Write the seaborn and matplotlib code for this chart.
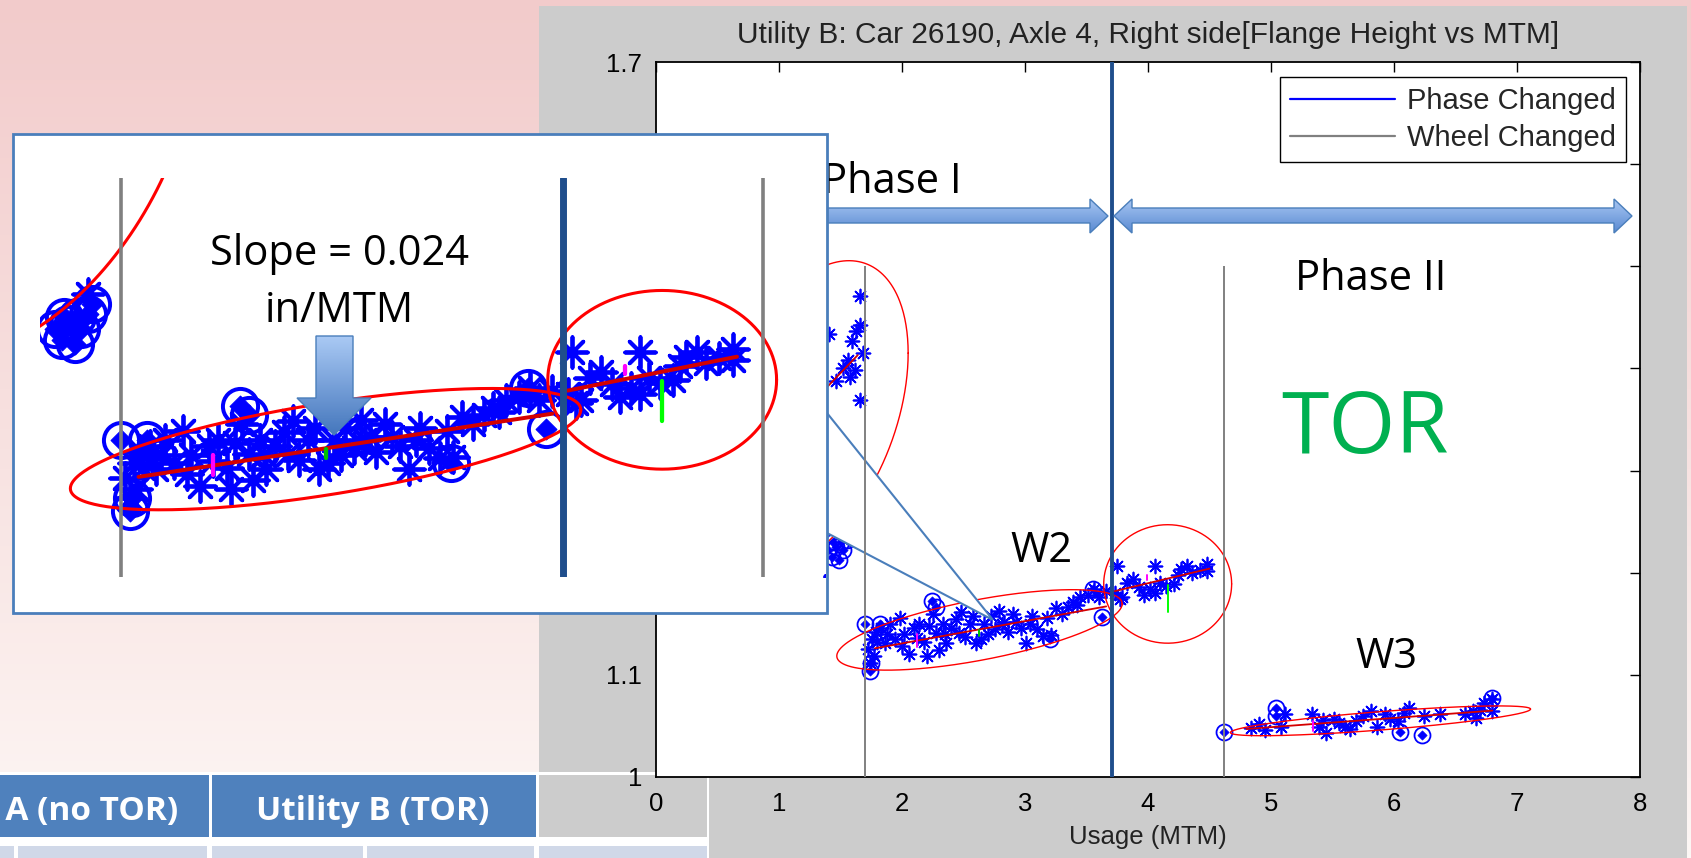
import numpy as np
import matplotlib
matplotlib.use("Agg")
import matplotlib.pyplot as plt
import seaborn as sns
from matplotlib.patches import Rectangle, Polygon
from matplotlib.lines import Line2D
from matplotlib.colors import LinearSegmentedColormap

sns.set_theme(style="white")
plt.rcParams['font.family'] = ['Liberation Sans', 'DejaVu Sans']

# ---------------- data ----------------
title = "Utility B: Car 26190, Axle 4, Right side[Flange Height vs MTM]"
x_label = "Usage (MTM)"
x_ticks = [0, 1, 2, 3, 4, 5, 6, 7, 8]
y_ticks = [1.0, 1.1, 1.2, 1.3, 1.4, 1.5, 1.6, 1.7]
y_tick_labels = ["1", "1.1", "1.2", "1.3", "1.4", "1.5", "1.6", "1.7"]

phase_change_x = [3.71]
wheel_change_x = [1.70, 4.62]
wheel_change_top = 1.5

# wheel 1 (visible part)
w1_star_x = [1.41, 1.46, 1.56, 1.58, 1.59, 1.63, 1.66, 1.66, 1.68, 1.66, 1.55, 1.62, 1.52]
w1_star_y = [1.434, 1.388, 1.408, 1.392, 1.427, 1.437, 1.443, 1.471, 1.415, 1.369, 1.245, 1.398, 1.400]
w1_circ_x = [1.40, 1.43, 1.46, 1.49, 1.52, 1.55, 1.44, 1.50, 1.57]
w1_circ_y = [1.222, 1.215, 1.225, 1.212, 1.222, 1.232, 1.230, 1.230, 1.238]

# wheel 2, phase I
w2_star_x = [1.72, 1.74, 1.77, 1.79, 1.80, 1.83, 1.86, 1.90, 1.94, 1.98, 2.02, 2.06, 2.10,
             2.14, 2.18, 2.20, 2.25, 2.28, 2.30, 2.33, 2.36, 2.40, 2.44, 2.48, 2.51, 2.55,
             2.60, 2.64, 2.67, 2.72, 2.76, 2.79, 2.83, 2.86, 2.90, 2.97, 3.01, 3.06, 3.10,
             3.15, 3.21, 3.25, 3.30, 3.35, 3.39, 3.45, 3.51, 3.56, 3.60, 3.66,
             1.76, 1.88, 2.00, 2.12, 2.22, 2.35, 2.46, 2.58, 2.70, 2.81, 2.93, 3.04, 3.18, 3.42]
w2_star_y = [1.125, 1.112, 1.118, 1.142, 1.132, 1.146, 1.131, 1.150, 1.135, 1.156, 1.140,
             1.120, 1.146, 1.150, 1.132, 1.118, 1.160, 1.141, 1.124, 1.150, 1.131, 1.146,
             1.155, 1.162, 1.137, 1.150, 1.131, 1.135, 1.150, 1.158, 1.145, 1.163, 1.152,
             1.142, 1.160, 1.146, 1.131, 1.158, 1.145, 1.138, 1.139, 1.165, 1.160, 1.166,
             1.171, 1.176, 1.178, 1.184, 1.176, 1.182,
             1.135, 1.140, 1.128, 1.136, 1.148, 1.140, 1.141, 1.158, 1.140, 1.150, 1.152,
             1.150, 1.156, 1.168]
w2_circ_x = [1.70, 1.82, 1.74, 1.75, 2.24, 2.28, 3.20, 3.55, 3.63]
w2_circ_y = [1.150, 1.150, 1.104, 1.112, 1.172, 1.166, 1.135, 1.184, 1.157]

# wheel 2, phase II
p2_star_x = [3.73, 3.75, 3.77, 3.79, 3.83, 3.88, 3.93, 3.97, 4.02, 4.06, 4.06, 4.10,
             4.15, 4.21, 4.24, 4.27, 4.32, 4.36, 4.42, 4.48, 4.48]
p2_star_y = [1.180, 1.207, 1.174, 1.176, 1.190, 1.194, 1.186, 1.178, 1.184, 1.207, 1.180,
             1.190, 1.187, 1.189, 1.198, 1.204, 1.207, 1.200, 1.203, 1.209, 1.202]

# wheel 3
w3_star_x = [4.84, 4.90, 5.08, 5.11, 5.33, 5.39, 5.45, 5.51, 5.60, 5.69, 5.75, 5.81, 5.86,
             5.93, 6.03, 6.12, 6.24, 6.37, 6.58, 6.64, 6.67, 6.73, 6.80, 6.80,
             4.95, 5.42, 5.55, 5.64, 5.97, 6.08, 6.70]
w3_star_y = [1.048, 1.052, 1.049, 1.062, 1.062, 1.049, 1.043, 1.057, 1.049, 1.055, 1.060,
             1.065, 1.049, 1.062, 1.055, 1.068, 1.060, 1.062, 1.062, 1.065, 1.058, 1.072,
             1.076, 1.065,
             1.046, 1.056, 1.053, 1.047, 1.057, 1.063, 1.066]
w3_circ_x = [4.62, 5.04, 5.04, 6.05, 6.23, 6.80]
w3_circ_y = [1.044, 1.068, 1.060, 1.044, 1.041, 1.077]

# confidence ellipses: centre, half-length, tilt, half-thickness
ell_cx = [1.25, 2.63, 4.16, 5.89]
ell_cy = [1.355, 1.144, 1.189, 1.055]
ell_a = [0.80, 1.16, 0.52, 1.22]
ell_k = [0.075, 0.022, 0.0, 0.0094]
ell_b = [0.138, 0.030, 0.058, 0.009]

# trend lines
fit_x0 = [0.30, 1.78, 3.73, 4.80]
fit_x1 = [1.64, 3.66, 4.50, 6.80]
fit_y0 = [1.245, 1.126, 1.182, 1.047]
fit_y1 = [1.413, 1.167, 1.204, 1.065]

# small mean markers
mark_x = [2.12, 2.63, 4.16, 3.99, 5.34]
mark_y0 = [1.127, 1.138, 1.162, 1.193, 1.045]
mark_y1 = [1.140, 1.144, 1.188, 1.198, 1.055]
mark_c = ['#ff00ff', '#00c000', '#00ff00', '#ff00ff', '#ff00ff']

legend_labels = ["Phase Changed", "Wheel Changed"]
table_headers = ["Utility A (no TOR)", "Utility B (TOR)"]

# ---------------- fonts ----------------
MFONT = ['Liberation Sans', 'DejaVu Sans']
TICK_SIZE, TITLE_SIZE, LEG_SIZE = 18.5, 21.5, 21
SFONT = ['Open Sans', 'DejaVu Sans']

W, H = 1691, 858
fig = plt.figure(figsize=(W / 100, H / 100), dpi=100)

def fx(x):
    return x / W

def fy(y):
    return 1 - y / H

# ---------------- slide background ----------------
ax_bg = fig.add_axes([0, 0, 1, 1], zorder=0)
grad = np.linspace(0, 1, 256)[:, None]
cm_bg = LinearSegmentedColormap.from_list('bg', ['#f2cbcb', '#fdf7f5'])
ax_bg.imshow(grad, cmap=cm_bg, extent=(0, W, H, 0), aspect='auto', origin='upper', zorder=0)
ax_bg.add_patch(Rectangle((539, 6), 1687 - 539, H - 6, facecolor='#cccccc', edgecolor='none', zorder=1))
# table
ax_bg.add_patch(Rectangle((0, 772), 709, H - 772, facecolor='white', edgecolor='none', zorder=2))
for (x0, x1), fc in zip([(-300, 209), (212, 536), (539, 707)], ['#4f81bd', '#4f81bd', '#cccccc']):
    ax_bg.add_patch(Rectangle((x0, 775), x1 - x0, 62, facecolor=fc, edgecolor='none', zorder=3))
for x0, x1 in [(-10, 14), (18, 207), (212, 363), (367, 534), (539, 707)]:
    ax_bg.add_patch(Rectangle((x0, 846), x1 - x0, 20, facecolor='#d0d8e8', edgecolor='none', zorder=3))
ax_bg.text(178, 820, table_headers[0], ha='right', va='baseline', color='white',
           fontsize=24, fontweight='bold', family=SFONT, zorder=4)
ax_bg.text(373, 820, table_headers[1], ha='center', va='baseline', color='white',
           fontsize=24, fontweight='bold', family=SFONT, zorder=4)
ax_bg.set_xlim(0, W)
ax_bg.set_ylim(H, 0)
ax_bg.axis('off')

# ---------------- drawing helper ----------------
def draw_clusters(a, s):
    t = np.linspace(0, 2 * np.pi, 361)
    star_x = w1_star_x + w2_star_x + p2_star_x + w3_star_x
    star_y = w1_star_y + w2_star_y + p2_star_y + w3_star_y
    circ_x = w1_circ_x + w2_circ_x + w3_circ_x
    circ_y = w1_circ_y + w2_circ_y + w3_circ_y
    sns.scatterplot(x=star_x, y=star_y, marker=(8, 2, 0), s=(10 * s) ** 2, color='#0000ff',
                    linewidth=1.25 * s, ax=a, zorder=3, legend=False)
    a.plot(circ_x, circ_y, ls='none', marker='o', ms=11.5 * s, mfc='none', mec='#0000ff',
           mew=1.3 * s, zorder=3)
    sns.scatterplot(x=circ_x, y=circ_y, marker='D', s=(4.8 * s) ** 2, color='#0000ff',
                    edgecolor='#0000ff', ax=a, zorder=3, legend=False)
    for cx, cy, aa, k, b in zip(ell_cx, ell_cy, ell_a, ell_k, ell_b):
        ex = cx + aa * np.cos(t)
        ey = cy + k * aa * np.cos(t) + b * np.sin(t)
        a.plot(ex, ey, color='#ff0000', lw=1.0 * s, zorder=3.6)
    for x0, x1, y0, y1 in zip(fit_x0, fit_x1, fit_y0, fit_y1):
        a.plot([x0, x1], [y0, y1], color='#d40000', lw=1.3 * s, zorder=3.7)
    for x, y0, y1, c in zip(mark_x, mark_y0, mark_y1, mark_c):
        a.plot([x, x], [y0, y1], color=c, lw=1.4 * s, zorder=3.8)

# ---------------- main MATLAB axes ----------------
ax = fig.add_axes([fx(656), fy(777), (1640 - 656) / W, (777 - 62) / H], zorder=1)
ax.set_facecolor('white')
draw_clusters(ax, 1.0)
ax.vlines(wheel_change_x, 1.0, wheel_change_top, color='#808080', lw=1.4, zorder=4)
for xv in phase_change_x:
    ax.axvline(xv, color='#1f4e8c', lw=2.8, zorder=4)
# callout pointer (slide shape)
ax.add_patch(Polygon([(fx(827), fy(413)), (fx(993), fy(620)), (fx(827), fy(533))],
                     closed=True, transform=fig.transFigure, facecolor='white',
                     edgecolor='#4a7ebb', lw=1.5, zorder=3.9, clip_on=False))
ax.set_xlim(0, 8)
ax.set_ylim(1.0, 1.7)
ax.set_xticks(x_ticks)
ax.set_xticklabels([str(v) for v in x_ticks], family=MFONT, fontsize=TICK_SIZE)
ax.set_yticks(y_ticks)
ax.set_yticklabels(y_tick_labels, family=MFONT, fontsize=TICK_SIZE)
ax.tick_params(direction='in', top=True, right=True, length=7, width=1, colors='black')
ax.tick_params(axis='x', pad=11)
ax.tick_params(axis='y', pad=10)
for sp in ax.spines.values():
    sp.set_color('black')
    sp.set_linewidth(1.3)
ax.set_xlabel(x_label, family=MFONT, fontsize=TICK_SIZE, labelpad=6, color='#222222')
ax.set_ylabel('')
ax.set_title(title, family=MFONT, fontsize=TITLE_SIZE, pad=14, color='#222222')
handles = [Line2D([], [], color='#0000ff', lw=1.6), Line2D([], [], color='#808080', lw=1.6)]
leg = ax.legend(handles, legend_labels, loc='upper right', bbox_to_anchor=(fx(1626), fy(77)),
                bbox_transform=fig.transFigure, frameon=True, fancybox=False, framealpha=1,
                edgecolor='black', borderaxespad=0, handlelength=3.6, borderpad=0.35,
                labelspacing=0.3, handletextpad=0.4, prop={'family': MFONT, 'size': LEG_SIZE})
leg.get_frame().set_linewidth(1.0)

# ---------------- slide overlay: arrows and labels ----------------
def grad_shape(a, pts, c_top, c_bot, zo):
    poly = Polygon(pts, closed=True, facecolor='none', edgecolor='#4a7ebb', lw=1.0, zorder=zo + 0.1)
    a.add_patch(poly)
    xs = [p[0] for p in pts]
    ys = [p[1] for p in pts]
    g = np.linspace(0, 1, 64)[:, None]
    cmap = LinearSegmentedColormap.from_list('g', [c_top, c_bot])
    im = a.imshow(g, cmap=cmap, extent=(min(xs), max(xs), max(ys), min(ys)),
                  aspect='auto', origin='upper', zorder=zo)
    im.set_clip_path(poly)

ax_ov = fig.add_axes([0, 0, 1, 1], zorder=2)
ax_ov.patch.set_alpha(0)
grad_shape(ax_ov, [(660, 208), (1090, 208), (1090, 199), (1108, 216), (1090, 233), (1090, 223), (660, 223)],
           '#a7c6f2', '#5a8ad2', 1)
grad_shape(ax_ov, [(1114, 216), (1132, 199), (1132, 208), (1614, 208), (1614, 199), (1632, 216),
                   (1614, 233), (1614, 223), (1132, 223), (1132, 233)], '#a7c6f2', '#5a8ad2', 1)
ax_ov.text(892, 193, "Phase I", ha='center', va='baseline', fontsize=30, family=SFONT, color='black')
ax_ov.text(1371, 290, "Phase II", ha='center', va='baseline', fontsize=30, family=SFONT, color='black')
ax_ov.text(1365, 453, "TOR", ha='center', va='baseline', fontsize=62, family=SFONT, color='#00b050')
ax_ov.text(1041, 562, "W2", ha='center', va='baseline', fontsize=30, family=SFONT, color='black')
ax_ov.text(1386, 668, "W3", ha='center', va='baseline', fontsize=30, family=SFONT, color='black')
ax_ov.set_xlim(0, W)
ax_ov.set_ylim(H, 0)
ax_ov.axis('off')

# ---------------- inset (zoomed view) ----------------
ax_box = fig.add_axes([0, 0, 1, 1], zorder=3)
ax_box.patch.set_alpha(0)
ax_box.add_patch(Rectangle((13, 134), 827 - 13, 613 - 134, facecolor='white',
                           edgecolor='#4a7ebb', lw=2.0))
ax_box.set_xlim(0, W)
ax_box.set_ylim(H, 0)
ax_box.axis('off')

ax_in = fig.add_axes([fx(40), fy(577), (825 - 40) / W, (577 - 178) / H], zorder=4)
ax_in.patch.set_alpha(0)
draw_clusters(ax_in, 2.2)
for xv in wheel_change_x:
    ax_in.axvline(xv, color='#808080', lw=2.6, zorder=4)
for xv in phase_change_x:
    ax_in.axvline(xv, color='#1f4e8c', lw=5.0, zorder=4)
ax_in.set_xlim(1.332, 4.900)
ax_in.set_ylim(1.061, 1.320)
ax_in.axis('off')

ax_top = fig.add_axes([0, 0, 1, 1], zorder=5)
ax_top.patch.set_alpha(0)
grad_shape(ax_top, [(316, 336), (353, 336), (353, 398), (371, 398), (334, 435), (297, 398), (316, 398)],
           '#a9c9f4', '#4577bd', 1)
ax_top.text(339, 265, "Slope = 0.024", ha='center', va='baseline', fontsize=30, family=SFONT, color='black')
ax_top.text(339, 322, "in/MTM", ha='center', va='baseline', fontsize=30, family=SFONT, color='black')
ax_top.set_xlim(0, W)
ax_top.set_ylim(H, 0)
ax_top.axis('off')

fig.savefig("out.png", dpi=100)
